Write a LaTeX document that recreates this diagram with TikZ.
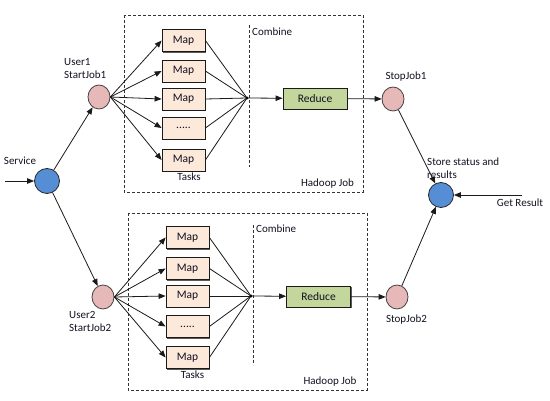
\documentclass[tikz,border=0pt]{standalone}
\usepackage{fontspec}
\setmainfont{Carlito}
\usetikzlibrary{arrows.meta,shadows,shapes.geometric}
\definecolor{pinkc}{HTML}{E6B9B8}
\definecolor{bluec}{HTML}{558ED5}
\definecolor{mapc}{HTML}{FDE9D9}
\definecolor{redc}{HTML}{C3D69B}
\definecolor{linec}{HTML}{1A1A1A}
\definecolor{txtc}{HTML}{111122}
\tikzset{
  every node/.style={font=\fontsize{11}{13}\selectfont, text=txtc, inner sep=0pt},
  boxfont/.style={font=\fontsize{11.5}{13}\selectfont},
  mapbox/.style={boxfont, draw=linec, fill=mapc, line width=0.8pt, minimum width=43pt, minimum height=22pt,
    drop shadow={shadow xshift=1.3pt, shadow yshift=-1.3pt, fill=black!65, opacity=1}},
  redbox/.style={boxfont, draw=linec, fill=redc, line width=0.8pt, minimum width=64pt, minimum height=21pt,
    drop shadow={shadow xshift=1.3pt, shadow yshift=-1.3pt, fill=black!65, opacity=1}},
  pinkdot/.style={ellipse, draw=black!75, fill=pinkc, line width=0.8pt, minimum width=22pt, minimum height=24pt},
  bluedot/.style={ellipse, draw=black!85, fill=bluec, line width=0.8pt, minimum width=25pt, minimum height=25pt},
  arr/.style={draw=linec, line width=0.8pt, -{Triangle[length=7pt,width=5.5pt]}},
  ln/.style={draw=linec, line width=0.8pt},
  dbox/.style={draw=black!80, line width=0.7pt, dash pattern=on 3pt off 2pt},
  lbl/.style={align=left}
}
\begin{document}
\begin{tikzpicture}[x=1pt,y=-1pt]
\useasboundingbox (0,0) rectangle (550,401);
% dashed job boxes
\draw[dbox] (124,15) rectangle (363,192);
\draw[dbox] (128,213) rectangle (367,390);
\draw[dbox] (249,25) -- (249,167);
\draw[dbox] (253,225) -- (253,365);

% top job
\node[pinkdot] (u1) at (99,97) {};
\node[mapbox] (m11) at (183.5,40.5) {Map};
\node[mapbox] (m12) at (183.5,71) {Map};
\node[mapbox] (m13) at (183.5,99) {Map};
\node[mapbox] (m14) at (183.5,128) {.....};
\node[mapbox] (m15) at (183.5,160) {Map};
\coordinate (j1) at (247,98);
\node[redbox] (r1) at (315,98.5) {Reduce};
\node[pinkdot] (s1) at (393,99) {};

% bottom job
\node[pinkdot] (u2) at (103,297) {};
\node[mapbox] (m21) at (187.5,237.5) {Map};
\node[mapbox] (m22) at (187.5,268.5) {Map};
\node[mapbox] (m23) at (187.5,296) {Map};
\node[mapbox] (m24) at (187.5,326.5) {.....};
\node[mapbox] (m25) at (187.5,357.5) {Map};
\coordinate (j2) at (251,296);
\node[redbox] (r2) at (318.5,296.5) {Reduce};
\node[pinkdot] (s2) at (397,297) {};

% service and store
\node[bluedot] (sv) at (47,181) {};
\node[bluedot] (st) at (441,195) {};
\coordinate (in) at (5,181);
\coordinate (gr) at (522,195);

% connectors
\draw[arr] (in) -- (sv);
\draw[arr] (sv) -- (u1);
\draw[arr] (sv) -- (u2);
\foreach \m in {m11,m12,m13,m14,m15}{
  \draw[arr] (u1.east) -- (\m.west);
  \draw[ln] (\m.east) -- (j1);
}
\foreach \m in {m21,m22,m23,m24,m25}{
  \draw[arr] (u2.east) -- (\m.west);
  \draw[ln] (\m.east) -- (j2);
}
\fill[black] (j1) circle (1.7pt);
\fill[black] (j2) circle (1.7pt);
\draw[arr] (j1) -- (r1);
\draw[arr] (j2) -- (r2);
\draw[arr] (r1) -- (s1);
\draw[arr] (r2) -- (s2);
\draw[arr] (s1) -- (st);
\draw[arr] (s2) -- (st);
\draw[arr] (gr) -- (st);

% labels
\node (lsv) at (20,161) {Service};
\node[lbl, anchor=west] (lu1) at (64,68.5) {User1\\StartJob1};
\node[lbl, anchor=west] (lu2) at (69,321.5) {User2\\StartJob2};
\node (ls1) at (406,77) {StopJob1};
\node (ls2) at (406.5,320) {StopJob2};
\node[lbl, anchor=west] (lst) at (427,168) {Store status and\\results};
\node (lgr) at (520,203) {Get Result};
\node[anchor=west] (lc1) at (252,32) {Combine};
\node[anchor=west] (lc2) at (256,229) {Combine};
\node (lh1) at (327.5,184) {Hadoop Job};
\node (lh2) at (330,382) {Hadoop Job};
\node (lt1) at (189,177) {Tasks};
\node (lt2) at (192.5,375) {Tasks};
\end{tikzpicture}
\end{document}
